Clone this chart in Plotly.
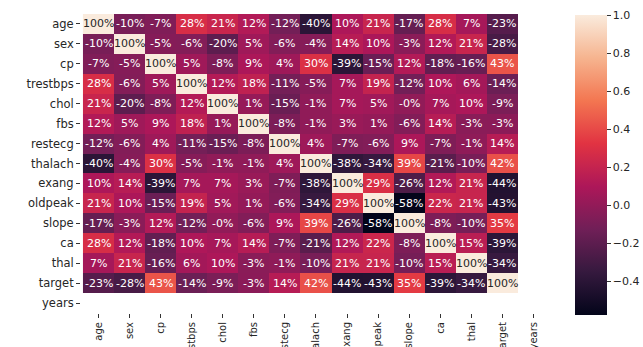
import plotly.graph_objects as go

labels = ["age", "sex", "cp", "trestbps", "chol", "fbs", "restecg", "thalach",
          "exang", "oldpeak", "slope", "ca", "thal", "target", "years"]

r_age      = [1.000, -0.098, -0.069, 0.279, 0.214, 0.121, -0.116, -0.399, 0.097, 0.210, -0.169, 0.276, 0.068, -0.2254]
r_sex      = [-0.098, 1.000, -0.049, -0.057, -0.198, 0.0452, -0.058, -0.044, 0.142, 0.096, -0.031, 0.118, 0.210, -0.281]
r_cp       = [-0.069, -0.049, 1.000, 0.048, -0.077, 0.094, 0.044, 0.296, -0.394, -0.149, 0.120, -0.181, -0.162, 0.434]
r_trestbps = [0.279, -0.057, 0.048, 1.000, 0.123, 0.178, -0.114, -0.047, 0.068, 0.193, -0.121, 0.101, 0.062, -0.145]
r_chol     = [0.214, -0.198, -0.077, 0.123, 1.000, 0.013, -0.151, -0.010, 0.067, 0.054, -0.004, 0.071, 0.099, -0.0852]
r_fbs      = [0.121, 0.0452, 0.094, 0.178, 0.013, 1.000, -0.084, -0.009, 0.026, 0.006, -0.060, 0.138, -0.032, -0.028]
r_restecg  = [-0.116, -0.058, 0.044, -0.114, -0.151, -0.084, 1.000, 0.044, -0.071, -0.059, 0.093, -0.072, -0.012, 0.137]
r_thalach  = [-0.399, -0.044, 0.296, -0.047, -0.010, -0.009, 0.044, 1.000, -0.379, -0.344, 0.387, -0.213, -0.096, 0.422]
r_exang    = [0.097, 0.142, -0.394, 0.068, 0.067, 0.026, -0.071, -0.379, 1.000, 0.288, -0.258, 0.116, 0.207, -0.437]
r_oldpeak  = [0.210, 0.096, -0.149, 0.193, 0.054, 0.006, -0.059, -0.344, 0.288, 1.000, -0.578, 0.223, 0.210, -0.431]
r_slope    = [-0.169, -0.031, 0.120, -0.121, -0.004, -0.060, 0.093, 0.387, -0.258, -0.578, 1.000, -0.080, -0.104, 0.346]
r_ca       = [0.276, 0.118, -0.181, 0.101, 0.071, 0.138, -0.072, -0.213, 0.116, 0.223, -0.080, 1.000, 0.152, -0.392]
r_thal     = [0.068, 0.210, -0.162, 0.062, 0.099, -0.032, -0.012, -0.096, 0.207, 0.210, -0.104, 0.152, 1.000, -0.344]
r_target   = [-0.2254, -0.281, 0.434, -0.145, -0.0852, -0.028, 0.137, 0.422, -0.437, -0.431, 0.346, -0.392, -0.344, 1.000]

rows = [r_age, r_sex, r_cp, r_trestbps, r_chol, r_fbs, r_restecg, r_thalach,
        r_exang, r_oldpeak, r_slope, r_ca, r_thal, r_target]

# years column/row is all NaN
z = [r + [None] for r in rows] + [[None] * len(labels)]

zmin = min(min(r) for r in rows)
zmax = 1.0

rocket = [
    [0.0, "#03051a"],
    [1/7, "#35193e"],
    [2/7, "#701f57"],
    [3/7, "#ad1759"],
    [4/7, "#e13342"],
    [5/7, "#f37651"],
    [6/7, "#f6b48f"],
    [1.0, "#faebdd"],
]

fig = go.Figure(go.Heatmap(
    z=z, x=labels, y=labels,
    zmin=zmin, zmax=zmax,
    colorscale=rocket,
    hoverongaps=False,
    xgap=0, ygap=0,
    colorbar=dict(
        thickness=32, thicknessmode="pixels",
        len=300, lenmode="pixels",
        x=575/643, xanchor="left", xpad=0, ypad=0,
        y=(347-315)/347, yanchor="bottom",
        outlinewidth=0,
        tickvals=[-0.4, -0.2, 0.0, 0.2, 0.4, 0.6, 0.8, 1.0],
        tickformat=".1f",
        ticks="outside", ticklen=4, tickcolor="#333",
        tickfont=dict(family="DejaVu Sans", size=11, color="#262626"),
    ),
))

annotations = []
for i, r in enumerate(rows):
    for j, v in enumerate(r):
        annotations.append(dict(
            x=labels[j], y=labels[i], xref="x", yref="y",
            text=f"{v:.0%}", showarrow=False,
            font=dict(family="DejaVu Sans", size=11,
                      color="#262626" if v > 0.9 else "#ffffff"),
        ))

fig.update_layout(
    width=643, height=347,
    margin=dict(l=0, r=0, t=0, b=0, autoexpand=False),
    paper_bgcolor="white", plot_bgcolor="white",
    annotations=annotations,
    xaxis=dict(domain=[81/643, 549/643], tickangle=-90, ticks="outside",
               ticklen=4, tickcolor="#333", showgrid=False, zeroline=False,
               tickfont=dict(family="DejaVu Sans", size=10, color="#262626"),
               automargin=False),
    yaxis=dict(domain=[(347-313)/347, (347-14)/347], autorange="reversed",
               ticks="outside", ticklen=4, tickcolor="#333", showgrid=False,
               zeroline=False,
               tickfont=dict(family="DejaVu Sans", size=11.5, color="#262626"),
               automargin=False),
)

fig.write_html("out.html")
